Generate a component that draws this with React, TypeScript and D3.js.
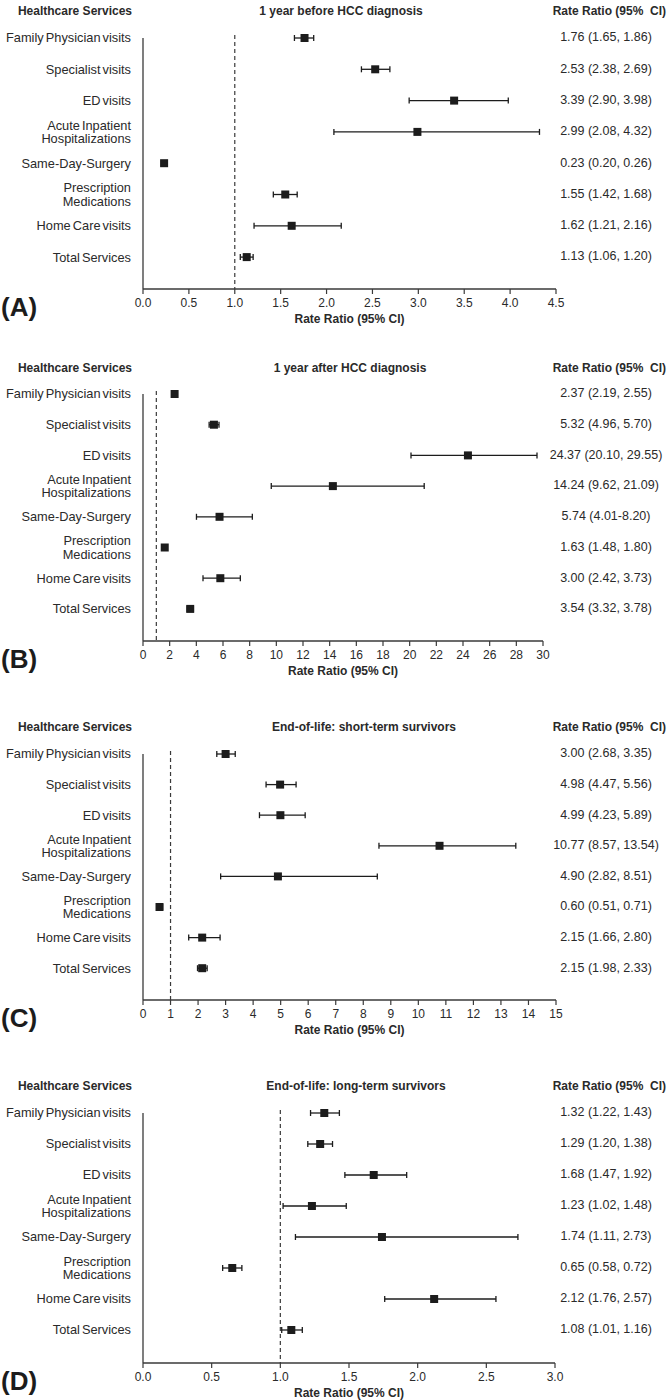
import * as d3 from "d3";

// rows, top to bottom
const SERVICES = [
  "Family Physician visits",
  "Specialist visits",
  "ED visits",
  "Acute Inpatient|Hospitalizations",
  "Same-Day-Surgery",
  "Prescription|Medications",
  "Home Care visits",
  "Total Services",
];

// (A) 1 year before HCC diagnosis
const A_EST = [1.76, 2.53, 3.39, 2.99, 0.23, 1.55, 1.62, 1.13];
const A_LO = [1.65, 2.38, 2.9, 2.08, 0.2, 1.42, 1.21, 1.06];
const A_HI = [1.86, 2.69, 3.98, 4.32, 0.26, 1.68, 2.16, 1.2];
const A_TEXT = [
  "1.76 (1.65, 1.86)",
  "2.53 (2.38, 2.69)",
  "3.39 (2.90, 3.98)",
  "2.99 (2.08, 4.32)",
  "0.23 (0.20, 0.26)",
  "1.55 (1.42, 1.68)",
  "1.62 (1.21, 2.16)",
  "1.13 (1.06, 1.20)",
];
const A_TICKS = [0, 0.5, 1, 1.5, 2, 2.5, 3, 3.5, 4, 4.5];

// (B) 1 year after HCC diagnosis (home care point drawn where the figure shows it)
const B_EST = [2.37, 5.32, 24.37, 14.24, 5.74, 1.63, 5.8, 3.54];
const B_LO = [2.19, 4.96, 20.1, 9.62, 4.01, 1.48, 4.5, 3.32];
const B_HI = [2.55, 5.7, 29.55, 21.09, 8.2, 1.8, 7.3, 3.78];
const B_TEXT = [
  "2.37 (2.19, 2.55)",
  "5.32 (4.96, 5.70)",
  "24.37 (20.10, 29.55)",
  "14.24 (9.62, 21.09)",
  "5.74 (4.01-8.20)",
  "1.63 (1.48, 1.80)",
  "3.00 (2.42, 3.73)",
  "3.54 (3.32, 3.78)",
];
const B_TICKS = [0, 2, 4, 6, 8, 10, 12, 14, 16, 18, 20, 22, 24, 26, 28, 30];

// (C) End-of-life: short-term survivors
const C_EST = [3.0, 4.98, 4.99, 10.77, 4.9, 0.6, 2.15, 2.15];
const C_LO = [2.68, 4.47, 4.23, 8.57, 2.82, 0.51, 1.66, 1.98];
const C_HI = [3.35, 5.56, 5.89, 13.54, 8.51, 0.71, 2.8, 2.33];
const C_TEXT = [
  "3.00 (2.68, 3.35)",
  "4.98 (4.47, 5.56)",
  "4.99 (4.23, 5.89)",
  "10.77 (8.57, 13.54)",
  "4.90 (2.82, 8.51)",
  "0.60 (0.51, 0.71)",
  "2.15 (1.66, 2.80)",
  "2.15 (1.98, 2.33)",
];
const C_TICKS = [0, 1, 2, 3, 4, 5, 6, 7, 8, 9, 10, 11, 12, 13, 14, 15];

// (D) End-of-life: long-term survivors
const D_EST = [1.32, 1.29, 1.68, 1.23, 1.74, 0.65, 2.12, 1.08];
const D_LO = [1.22, 1.2, 1.47, 1.02, 1.11, 0.58, 1.76, 1.01];
const D_HI = [1.43, 1.38, 1.92, 1.48, 2.73, 0.72, 2.57, 1.16];
const D_TEXT = [
  "1.32 (1.22, 1.43)",
  "1.29 (1.20, 1.38)",
  "1.68 (1.47, 1.92)",
  "1.23 (1.02, 1.48)",
  "1.74 (1.11, 2.73)",
  "0.65 (0.58, 0.72)",
  "2.12 (1.76, 2.57)",
  "1.08 (1.01, 1.16)",
];
const D_TICKS = [0, 0.5, 1, 1.5, 2, 2.5, 3];

const W = 668;
const H = 1400;
const FONT = "'Liberation Sans', Arial, sans-serif";
const TEXT = "#2a2a2a";
const INK = "#1c1c1c";
const LINE = "#3a3a3a";

const PANELS = [
  { letter: "(A)", title: "1 year before HCC diagnosis", est: A_EST, lo: A_LO, hi: A_HI, text: A_TEXT, ticks: A_TICKS, fmt: d3.format(".1f"),
    head: 11, first: 38, step: 31.3, axisY: 289, x1: 556, titleX: 341 },
  { letter: "(B)", title: "1 year after HCC diagnosis", est: B_EST, lo: B_LO, hi: B_HI, text: B_TEXT, ticks: B_TICKS, fmt: d3.format("d"),
    head: 368, first: 394, step: 30.7, axisY: 641, x1: 543, titleX: 350 },
  { letter: "(C)", title: "End-of-life: short-term survivors", est: C_EST, lo: C_LO, hi: C_HI, text: C_TEXT, ticks: C_TICKS, fmt: d3.format("d"),
    head: 727, first: 754, step: 30.6, axisY: 1000, x1: 556, titleX: 364 },
  { letter: "(D)", title: "End-of-life: long-term survivors", est: D_EST, lo: D_LO, hi: D_HI, text: D_TEXT, ticks: D_TICKS, fmt: d3.format(".1f"),
    head: 1086, first: 1113, step: 31, axisY: 1363, x1: 555, titleX: 356 },
];

const X0 = 143;
const LABEL_X = 131;
const VALUE_X = 606;

function Panel({ p }) {
  const ticks = p.ticks;
  const x = d3.scaleLinear().domain([ticks[0], ticks[ticks.length - 1]]).range([X0, p.x1]);
  const y = (i) => p.first + i * p.step;
  const mid = (X0 + p.x1) / 2;
  const cap = 3;
  const sq = 8;

  return (
    <g fontFamily={FONT} fill={TEXT}>
      <text x={132} y={p.head} dy="0.35em" textAnchor="end" fontWeight="bold" fontSize={12}>
        Healthcare Services
      </text>
      <text x={p.titleX} y={p.head} dy="0.35em" textAnchor="middle" fontWeight="bold" fontSize={12}>
        {p.title}
      </text>
      <text x={666} y={p.head} dy="0.35em" textAnchor="end" fontWeight="bold" fontSize={12} style={{ whiteSpace: "pre" }}>
        {"Rate Ratio (95%  CI)"}
      </text>

      {SERVICES.map((s, i) => {
        const lines = s.split("|");
        return (
          <text key={s} x={LABEL_X} y={y(i)} textAnchor="end" fontSize={12.8} wordSpacing={-1.5}>
            {lines.map((l, j) => (
              <tspan key={j} x={LABEL_X} y={y(i) + (j - (lines.length - 1) / 2) * 13.5} dy="0.35em">
                {l}
              </tspan>
            ))}
          </text>
        );
      })}

      {/* y axis line and reference line at 1 */}
      <line x1={X0} x2={X0} y1={p.first} y2={p.axisY} stroke={LINE} strokeWidth={1.3} />
      <line x1={x(1)} x2={x(1)} y1={p.first - 3} y2={p.axisY} stroke={LINE} strokeWidth={1.2} strokeDasharray="4,3" />

      {/* x axis */}
      <line x1={X0} x2={p.x1} y1={p.axisY} y2={p.axisY} stroke={LINE} strokeWidth={1.3} />
      {ticks.map((t) => (
        <g key={t}>
          <line x1={x(t)} x2={x(t)} y1={p.axisY} y2={p.axisY + 5} stroke={LINE} strokeWidth={1.2} />
          <text x={x(t)} y={p.axisY + 14} dy="0.35em" textAnchor="middle" fontSize={12}>
            {p.fmt(t)}
          </text>
        </g>
      ))}
      <text x={mid} y={p.axisY + 30} dy="0.35em" textAnchor="middle" fontWeight="bold" fontSize={12}>
        Rate Ratio (95% CI)
      </text>
      <text x={1} y={p.axisY + 18} dy="0.35em" fontWeight="bold" fontSize={26} fill={INK}>
        {p.letter}
      </text>

      {/* estimates with CI */}
      {p.est.map((v, i) => (
        <g key={i} stroke={INK} strokeWidth={1.3}>
          <line x1={x(p.lo[i])} x2={x(p.hi[i])} y1={y(i)} y2={y(i)} />
          <line x1={x(p.lo[i])} x2={x(p.lo[i])} y1={y(i) - cap} y2={y(i) + cap} />
          <line x1={x(p.hi[i])} x2={x(p.hi[i])} y1={y(i) - cap} y2={y(i) + cap} />
          <rect x={x(v) - sq / 2} y={y(i) - sq / 2} width={sq} height={sq} fill={INK} stroke="none" />
        </g>
      ))}

      {p.text.map((t, i) => (
        <text key={i} x={VALUE_X} y={y(i) - 1} dy="0.35em" textAnchor="middle" fontSize={12.5}>
          {t}
        </text>
      ))}
    </g>
  );
}

export default function App() {
  return (
    <div style={{ position: "absolute", left: 0, top: 0, width: W, height: H, background: "#fff" }}>
      <svg width={W} height={H} viewBox={`0 0 ${W} ${H}`}>
        <rect width={W} height={H} fill="#fff" />
        {PANELS.map((p) => (
          <Panel key={p.letter} p={p} />
        ))}
      </svg>
    </div>
  );
}
